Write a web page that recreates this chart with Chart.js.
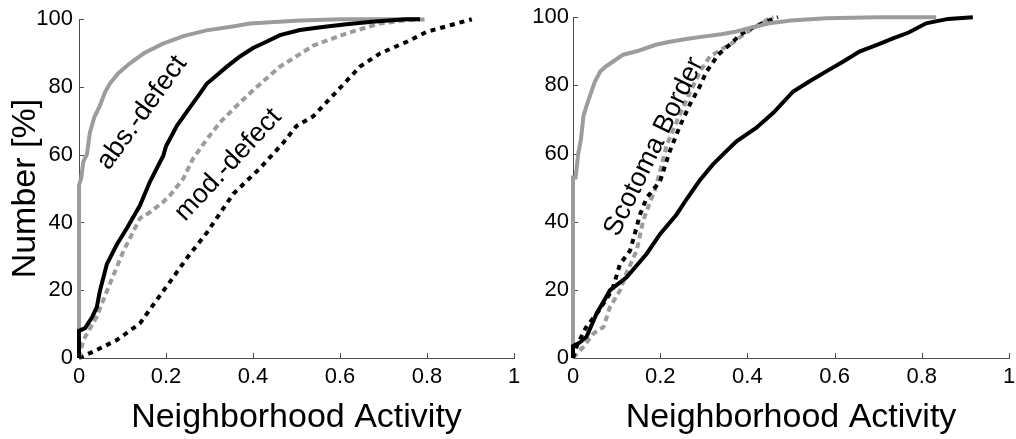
<!DOCTYPE html>
<html>
<head>
<meta charset="utf-8">
<script src="https://cdn.jsdelivr.net/npm/chart.js@4.4.1/dist/chart.umd.min.js"></script>
<style>
  html, body { margin: 0; padding: 0; background: #fff; }
  body { width: 1016px; height: 439px; position: relative; overflow: hidden; }
  canvas { position: absolute; top: 0; }
  #left  { left: 0; }
  #right { left: 520px; }
</style>
</head>
<body>
<canvas id="left" width="520" height="439"></canvas>
<canvas id="right" width="496" height="439"></canvas>
<script>
// ─── Tick values ─────────────────────────────────────────────────────────────
const xTicks = [0, 0.2, 0.4, 0.6, 0.8, 1];
const yTicks = [0, 20, 40, 60, 80, 100];

// ─── Left panel: cumulative curves (x = activity, y = %) ─────────────────────
const leftGraySolidX = [0, 0, 0.005, 0.01, 0.018, 0.025, 0.035, 0.048, 0.06, 0.071, 0.09, 0.117, 0.15, 0.193, 0.24, 0.293, 0.35, 0.393, 0.45, 0.508, 0.6, 0.7, 0.78];
const leftGraySolidY = [0, 51, 53, 58, 60, 66.5, 71, 74.5, 78.5, 81, 84, 87, 90, 92.8, 95, 96.7, 97.8, 98.7, 99.2, 99.6, 100, 100, 100];

const leftBlackSolidX = [0, 0, 0.014, 0.03, 0.041, 0.048, 0.064, 0.087, 0.11, 0.14, 0.163, 0.194, 0.2, 0.225, 0.255, 0.275, 0.294, 0.308, 0.34, 0.37, 0.4, 0.432, 0.462, 0.508, 0.56, 0.615, 0.68, 0.753, 0.784];
const leftBlackSolidY = [0, 8, 8.8, 12, 15, 19.8, 27.7, 33.5, 38.3, 45, 52, 59.8, 62.5, 68.5, 74, 77.5, 81, 82.5, 86, 89, 91.5, 93.4, 95.3, 96.8, 97.7, 98.5, 99.3, 100, 100];

const leftGrayDotX = [0, 0.01, 0.04, 0.071, 0.102, 0.14, 0.163, 0.193, 0.209, 0.24, 0.262, 0.294, 0.324, 0.362, 0.4, 0.462, 0.54, 0.615, 0.69, 0.75, 0.8];
const leftGrayDotY = [0, 5.3, 12, 21.9, 31.5, 41.2, 43, 46, 48, 53, 58.8, 64.6, 69.5, 74.4, 79, 86, 92.3, 95.8, 98.7, 99.6, 100];

const leftBlackDotX = [0, 0.04, 0.087, 0.14, 0.178, 0.216, 0.248, 0.294, 0.331, 0.355, 0.416, 0.47, 0.5, 0.539, 0.6, 0.646, 0.692, 0.753, 0.8, 0.853, 0.903];
const leftBlackDotY = [0, 2.3, 5.3, 10.2, 17, 23.7, 29.5, 37, 44, 48.5, 56, 63.6, 68.5, 71.4, 79.7, 86, 89.9, 93.3, 96.3, 98.2, 100];

// ─── Right panel ─────────────────────────────────────────────────────────────
const rightGraySolidX = [0, 0, 0.006, 0.012, 0.018, 0.024, 0.031, 0.039, 0.05, 0.062, 0.075, 0.092, 0.115, 0.146, 0.19, 0.222, 0.26, 0.298, 0.34, 0.375, 0.41, 0.451, 0.5, 0.58, 0.7, 0.833];
const rightGraySolidY = [0, 53, 53, 60, 64, 71, 74, 77, 81, 84, 85.5, 87, 89, 90, 91.9, 92.8, 93.6, 94.3, 95, 95.8, 97, 98.2, 99, 99.7, 100, 100];

const rightBlackSolidX = [0, 0, 0.015, 0.031, 0.054, 0.085, 0.123, 0.169, 0.2, 0.238, 0.26, 0.29, 0.321, 0.35, 0.375, 0.42, 0.46, 0.505, 0.54, 0.581, 0.62, 0.657, 0.7, 0.734, 0.77, 0.81, 0.86, 0.917];
const rightBlackSolidY = [0, 3.5, 4.5, 6.2, 13, 19.9, 23.7, 30.6, 36.4, 42.2, 46.5, 52, 56.8, 60.5, 63.6, 67.5, 72, 78.2, 81, 84.1, 87, 89.9, 92, 93.8, 95.5, 98.2, 99.5, 100];

const rightGrayDotX = [0, 0.024, 0.047, 0.07, 0.085, 0.108, 0.123, 0.146, 0.161, 0.175, 0.19, 0.215, 0.24, 0.265, 0.291, 0.314, 0.34, 0.367, 0.39, 0.413, 0.435, 0.451, 0.46];
const rightGrayDotY = [0, 3.3, 7.2, 9.1, 15, 19.9, 25, 31.5, 40.3, 45.2, 50, 62.5, 70, 77, 84, 88.5, 90.5, 92.5, 94.8, 96.7, 98.5, 99.7, 100];

const rightBlackDotX = [0, 0.01, 0.03, 0.06, 0.09, 0.108, 0.131, 0.154, 0.169, 0.2, 0.222, 0.245, 0.268, 0.29, 0.306, 0.333, 0.36, 0.383, 0.41, 0.435, 0.455, 0.47];
const rightBlackDotY = [0, 4, 9, 14, 20, 27.6, 31.5, 42.2, 47, 52, 60.7, 68, 74.4, 79.5, 84, 89, 92, 94.8, 96.8, 98.3, 99.3, 100];

// ─── Styling ─────────────────────────────────────────────────────────────────
const FONT  = "'Liberation Sans', Arial, sans-serif";
const GRAY  = "#9c9c9c";
const BLACK = "#000000";
const AXIS  = "#4d4d4d";

const pts = (xs, ys) => xs.map((x, i) => ({ x, y: ys[i] }));

function curve(xs, ys, color, dash) {
    return {
        data: pts(xs, ys),
        showLine: true,
        borderColor: color,
        borderWidth: 4,
        borderDash: dash || [],
        borderCapStyle: "butt",
        pointRadius: 0,
        tension: 0,
        clip: false,
    };
}

// small inward tick marks, drawn under the curves
const inwardTicks = {
    id: "inwardTicks",
    beforeDatasetsDraw(chart) {
        const { ctx, chartArea: a, scales: { x, y } } = chart;
        ctx.save();
        ctx.strokeStyle = AXIS;
        ctx.lineWidth = 1;
        ctx.beginPath();
        xTicks.forEach(v => {
            const p = Math.round(x.getPixelForValue(v)) + 0.5;
            ctx.moveTo(p, a.bottom);
            ctx.lineTo(p, a.bottom - 5);
        });
        yTicks.forEach(v => {
            const p = Math.round(y.getPixelForValue(v)) + 0.5;
            ctx.moveTo(a.left, p);
            ctx.lineTo(a.left + 5, p);
        });
        ctx.stroke();
        ctx.restore();
    },
};

// rotated text labels placed in data coordinates
const notes = {
    id: "notes",
    afterDatasetsDraw(chart, args, opts) {
        const { ctx, scales: { x, y } } = chart;
        (opts.items || []).forEach(n => {
            ctx.save();
            ctx.translate(x.getPixelForValue(n.x), y.getPixelForValue(n.y));
            ctx.rotate(n.angle * Math.PI / 180);
            ctx.font = `27px ${FONT}`;
            ctx.fillStyle = "#000";
            ctx.textAlign = "center";
            ctx.textBaseline = "middle";
            ctx.fillText(n.text, 0, 0);
            ctx.restore();
        });
    },
};

function makeChart(id, datasets, opt) {
    return new Chart(document.getElementById(id), {
        type: "scatter",
        data: { datasets },
        plugins: [inwardTicks, notes],
        options: {
            responsive: false,
            animation: false,
            devicePixelRatio: 1,
            layout: { padding: { left: 0, top: 15.5, right: opt.padRight, bottom: 0 } },
            plugins: {
                legend: { display: false },
                tooltip: { enabled: false },
                notes: { items: opt.notes },
            },
            scales: {
                x: {
                    type: "linear", min: 0, max: 1,
                    grid: { display: false, drawTicks: false },
                    border: { display: true, color: AXIS, width: 1 },
                    afterBuildTicks: s => { s.ticks = xTicks.map(v => ({ value: v })); },
                    ticks: {
                        padding: 6, color: "#000", maxRotation: 0, autoSkip: false,
                        font: { family: FONT, size: 22 },
                        callback: v => String(Math.round(v * 10) / 10),
                    },
                    title: {
                        display: true, text: "Neighborhood Activity", color: "#000",
                        font: { family: FONT, size: 34 }, padding: { top: 0, bottom: 1 },
                    },
                    // fixed height; end labels may spill into the layout padding
                    afterFit: s => { s.height = 81; s.paddingLeft = 0; s.paddingRight = 0; },
                },
                y: {
                    type: "linear", min: 0, max: 100,
                    grid: { display: false, drawTicks: false },
                    border: { display: true, color: AXIS, width: 1 },
                    afterBuildTicks: s => { s.ticks = yTicks.map(v => ({ value: v })); },
                    ticks: {
                        padding: opt.yPad, color: "#000", autoSkip: false,
                        font: { family: FONT, size: 22 },
                    },
                    title: {
                        display: opt.yTitle, text: "Number [%]", color: "#000",
                        font: { family: FONT, size: 34 }, padding: { top: 5, bottom: 0 },
                    },
                    afterFit: s => { s.width = opt.yWidth; },
                },
            },
        },
    });
}

makeChart("left", [
    curve(leftBlackSolidX, leftBlackSolidY, BLACK),
    curve(leftGraySolidX,  leftGraySolidY,  GRAY),
    curve(leftGrayDotX,    leftGrayDotY,    GRAY,  [6, 4]),
    curve(leftBlackDotX,   leftBlackDotY,   BLACK, [5, 5]),
], {
    padRight: 6, yWidth: 79, yPad: 6, yTitle: true,
    notes: [
        { text: "abs.-defect", x: 0.145, y: 72.4, angle: -54 },
        { text: "mod.-defect", x: 0.343, y: 57.0, angle: -47 },
    ],
});

makeChart("right", [
    curve(rightBlackSolidX, rightBlackSolidY, BLACK),
    curve(rightGraySolidX,  rightGraySolidY,  GRAY),
    curve(rightBlackDotX,   rightBlackDotY,   BLACK, [5, 5]),
    curve(rightGrayDotX,    rightGrayDotY,    GRAY,  [6, 4]),
], {
    padRight: 7, yWidth: 53, yPad: 4, yTitle: false,
    notes: [
        { text: "Scotoma Border", x: 0.186, y: 62.0, angle: -64 },
    ],
});
</script>
</body>
</html>
